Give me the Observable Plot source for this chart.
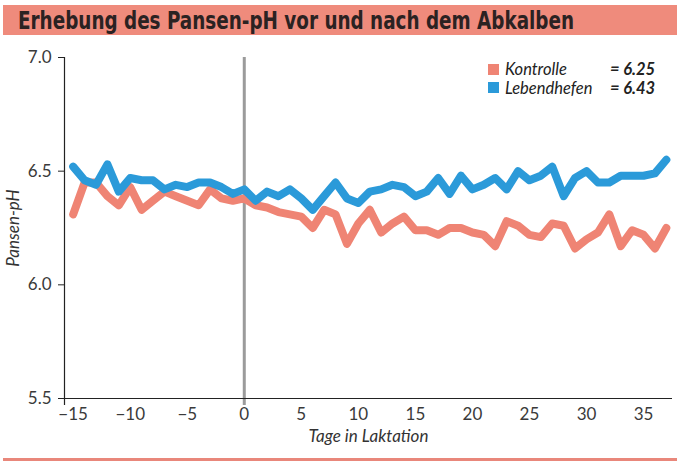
<!DOCTYPE html>
<html><head><meta charset="utf-8">
<script src="https://cdn.jsdelivr.net/npm/d3@7"></script>
<script src="https://cdn.jsdelivr.net/npm/@observablehq/plot@0.6"></script>
<style>
html,body{margin:0;padding:0;background:#fff;}
body{width:680px;height:470px;position:relative;overflow:hidden;font-family:Lato,"Open Sans",sans-serif;}
#title{position:absolute;left:3px;top:5px;width:674px;height:30px;background:#ef8b7c;}
#title span{position:absolute;left:15px;top:2px;font-family:"Liberation Sans Narrow","DejaVu Sans Condensed","Open Sans",sans-serif;font-weight:bold;font-size:24px;line-height:28px;color:#2b2222;transform-origin:left center;white-space:nowrap;}
#chart{position:absolute;left:0;top:40px;}
#legend{position:absolute;left:488px;top:60px;font-size:16.5px;color:#222;line-height:18.5px;}
#legend .row{display:flex;align-items:center;height:18.5px;}
#legend .sw{width:11px;height:11px;margin-right:6px;}
#legend .lab{font-style:italic;width:105px;}
#legend .val{font-style:italic;font-weight:bold;}
#bottomline{position:absolute;left:3px;top:458px;width:674px;height:3px;background:#e9877b;}
</style>
</head><body>
<div id="title"><span id="titletext">Erhebung des Pansen-pH vor und nach dem Abkalben</span></div>
<div id="chart"></div>
<div id="legend"></div>
<div id="bottomline"></div>
<script>
const days = [-15,-14,-13,-12,-11,-10,-9,-8,-7,-6,-5,-4,-3,-2,-1,0,1,2,3,4,5,6,7,8,9,10,11,12,13,14,15,16,17,18,19,20,21,22,23,24,25,26,27,28,29,30,31,32,33,34,35,36,37];
const kontrolle = [6.31,6.45,6.45,6.39,6.35,6.43,6.33,6.37,6.41,6.39,6.37,6.35,6.42,6.38,6.37,6.38,6.35,6.34,6.32,6.31,6.30,6.25,6.33,6.31,6.18,6.27,6.33,6.23,6.27,6.30,6.24,6.24,6.22,6.25,6.25,6.23,6.22,6.17,6.28,6.26,6.22,6.21,6.27,6.26,6.16,6.20,6.23,6.31,6.17,6.24,6.22,6.16,6.25];
const lebendhefen = [6.52,6.46,6.44,6.53,6.41,6.47,6.46,6.46,6.42,6.44,6.43,6.45,6.45,6.43,6.40,6.42,6.37,6.41,6.39,6.42,6.38,6.33,6.39,6.45,6.38,6.36,6.41,6.42,6.44,6.43,6.39,6.41,6.47,6.40,6.48,6.42,6.44,6.47,6.42,6.50,6.46,6.48,6.52,6.39,6.47,6.50,6.45,6.45,6.48,6.48,6.48,6.49,6.55];
const seriesNames = ["Kontrolle","Lebendhefen"];
const seriesMeans = ["= 6.25","= 6.43"];
const seriesColors = ["#ef8474","#2b9ad9"];
const xTicks = [-15,-10,-5,0,5,10,15,20,25,30,35];
const yTicks = [5.5,6.0,6.5,7.0];
const xDomain = [-15.76, 37.54];
const yDomain = [5.5, 7.0];

const redData = days.map((d,i)=>({day:d, ph:kontrolle[i]}));
const blueData = days.map((d,i)=>({day:d, ph:lebendhefen[i]}));

const chart = Plot.plot({
  width: 680,
  height: 410,
  marginLeft: 64,
  marginRight: 8,
  marginTop: 17,
  marginBottom: 52,
  style: {fontFamily: "Lato, 'Open Sans', sans-serif", fontSize: "17px", color: "#3a3a3a", background: "#fff"},
  x: {domain: xDomain},
  y: {domain: yDomain},
  marks: [
    Plot.ruleX([0], {stroke: "#9b9b9b", strokeWidth: 3, insetBottom: -7}),
    Plot.ruleY([yDomain[0]], {stroke: "#222", strokeWidth: 1.2}),
    Plot.ruleX([xDomain[0]], {stroke: "#222", strokeWidth: 1.2, insetBottom: -7}),
    Plot.axisX({ticks: xTicks, tickSize: 0, tickPadding: 9, fontSize: 17, label: null}),
    Plot.axisY({ticks: yTicks, tickFormat: d3.format(".1f"), tickSize: 6, tickPadding: 7, fontSize: 17, label: null, stroke: "#222"}),
    Plot.lineY(redData, {x: "day", y: "ph", stroke: seriesColors[0], strokeWidth: 8, strokeLinejoin: "round", strokeLinecap: "round"}),
    Plot.lineY(blueData, {x: "day", y: "ph", stroke: seriesColors[1], strokeWidth: 8, strokeLinejoin: "round", strokeLinecap: "round"}),
    Plot.text(["Tage in Laktation"], {frameAnchor: "bottom", dy: 43, fontStyle: "italic", fontSize: 17, fill: "#333"}),
    Plot.text(["Pansen-pH"], {frameAnchor: "left", dx: -51, rotate: -90, textAnchor: "middle", fontStyle: "italic", fontSize: 17, fill: "#333"})
  ]
});
document.getElementById("chart").appendChild(chart);

const legend = document.getElementById("legend");
seriesNames.forEach((n,i)=>{
  const row = document.createElement("div"); row.className="row";
  const sw = document.createElement("div"); sw.className="sw"; sw.style.background=seriesColors[i];
  const lab = document.createElement("div"); lab.className="lab"; lab.textContent=n;
  const val = document.createElement("div"); val.className="val"; val.textContent=seriesMeans[i];
  row.append(sw,lab,val); legend.appendChild(row);
});

const tt = document.getElementById("titletext");
const w = tt.getBoundingClientRect().width;
tt.style.transform = `scaleX(${556 / w})`;
</script>
</body></html>
